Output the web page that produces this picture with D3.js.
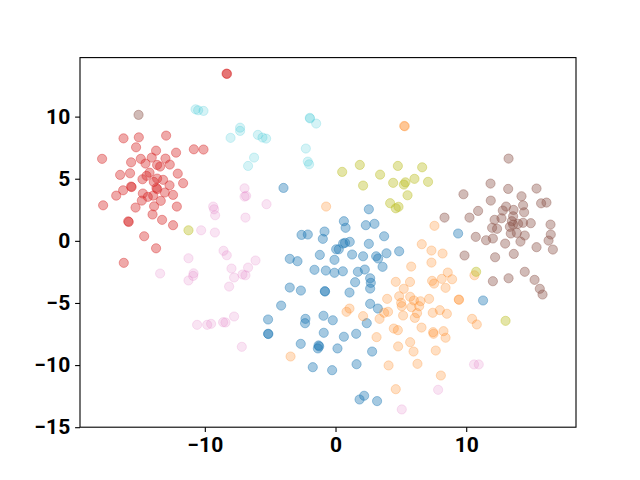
<!DOCTYPE html>
<html><head><meta charset="utf-8">
<script src="https://cdn.jsdelivr.net/npm/d3@7"></script>
<style>body{margin:0;background:#fff}</style></head>
<body><svg id="c" width="640" height="480"></svg>
<script>
const xTicks=[-10,0,10];
const yTicks=[-15,-10,-5,0,5,10];
const seriesNames=["blue","orange","red","brown","pink","olive","cyan"];
const seriesColors=["#1f77b4","#ff7f0e","#d62728","#8c564b","#e377c2","#bcbd22","#17becf"];
const seriesAlpha=[0.4,0.25,0.4,0.4,0.2,0.4,0.18];
const blue=[[-3.98,4.26],[2.55,2.54],[0.64,1.58],[0.77,1.05],[2.32,1.26],[2.98,1.37],[3.72,0.37],[-2.60,0.48],[-2.12,0.51],[-0.84,0.75],[-0.97,0.16],[0.58,-0.22],[0.25,-0.68],[0.05,-0.68],[1.09,-0.08],[0.73,-0.16],[2.55,-0.24],[-1.20,-1.13],[1.27,-1.10],[2.11,-1.24],[3.11,-1.24],[3.26,-1.42],[3.90,-1.00],[4.87,-0.84],[-0.08,-1.53],[-3.50,-1.45],[-2.91,-1.64],[3.60,-2.09],[-1.61,-2.33],[-0.74,-2.39],[-0.08,-2.57],[0.56,-2.45],[1.71,-2.49],[2.24,-2.31],[2.65,-3.01],[2.70,-3.38],[2.65,-3.84],[1.50,-3.33],[-3.50,-3.76],[-2.65,-4.00],[-0.82,-4.05],[-0.80,-4.08],[1.07,-4.16],[9.38,0.59],[11.29,-4.80],[-4.16,-5.21],[-5.16,-6.33],[-5.16,-7.48],[-5.14,-7.50],[-2.30,-6.28],[-2.33,-6.63],[-0.92,-6.03],[-0.21,-6.39],[-0.90,-7.40],[-2.66,-8.29],[-1.30,-8.42],[-1.25,-8.50],[-1.35,-8.66],[0.15,-8.66],[0.64,-7.72],[1.58,-7.48],[-1.74,-10.17],[-0.26,-10.41],[1.61,-9.93],[2.80,-8.91],[2.39,-6.63],[2.65,-5.07],[3.24,-5.45],[1.84,-12.77],[2.19,-12.47],[3.18,-12.90]];
const orange=[[5.25,9.25],[5.30,9.22],[-0.72,2.76],[4.61,-3.30],[5.22,-3.86],[4.87,-4.46],[3.95,-4.67],[5.70,-3.31],[5.71,-4.50],[7.16,-4.67],[7.57,1.21],[6.60,-0.27],[7.34,-0.78],[8.19,-1.02],[7.34,-1.75],[5.79,-2.07],[8.59,-2.55],[8.92,-3.09],[8.13,-3.06],[7.39,-3.22],[7.54,-3.44],[8.42,-3.78],[10.63,-2.77],[-3.44,-9.31],[0.84,-5.71],[1.07,-5.45],[2.11,-6.06],[3.14,-7.75],[4.06,-10.03],[4.61,-11.94],[5.02,-4.99],[5.07,-5.26],[3.37,-6.28],[3.72,-5.79],[4.02,-5.71],[5.17,-6.01],[4.46,-7.06],[4.77,-7.19],[4.79,-8.50],[6.00,-4.80],[6.50,-4.86],[6.40,-5.26],[5.81,-5.34],[6.07,-6.20],[6.24,-5.82],[7.44,-5.79],[7.98,-5.58],[8.52,-5.87],[9.43,-4.72],[9.45,-4.75],[10.45,-6.28],[10.81,-6.73],[6.58,-6.98],[7.47,-7.35],[7.50,-7.48],[8.26,-7.27],[8.42,-7.80],[5.71,-8.16],[5.97,-8.91],[7.67,-8.83],[6.27,-9.90],[8.06,-10.84]];
const red=[[-16.22,8.25],[-15.05,8.33],[-12.96,8.47],[-15.26,7.53],[-10.84,7.37],[-10.10,7.35],[-17.86,6.60],[-13.73,7.26],[-12.20,7.10],[-15.64,6.32],[-14.90,6.60],[-14.54,6.22],[-14.06,6.70],[-13.01,6.62],[-13.65,6.11],[-13.42,5.98],[-12.68,6.14],[-16.48,5.31],[-15.72,5.44],[-14.23,5.49],[-14.46,5.23],[-12.07,5.41],[-8.34,13.46],[-8.30,13.44],[-14.77,4.96],[-13.65,5.01],[-13.19,4.91],[-13.90,4.74],[-11.66,4.64],[-16.25,4.07],[-15.64,4.37],[-15.60,4.33],[-16.78,3.64],[-14.74,3.81],[-13.70,4.26],[-13.64,4.16],[-13.06,3.89],[-12.70,4.47],[-12.43,3.70],[-14.36,3.54],[-14.82,3.24],[-13.95,3.64],[-13.37,3.22],[-17.78,2.86],[-15.30,2.68],[-13.88,2.78],[-12.14,2.76],[-14.00,2.12],[-13.27,1.69],[-12.43,1.26],[-15.86,1.57],[-15.82,1.52],[-14.64,0.37],[-13.73,-0.60],[-16.20,-1.77]];
const brown=[[-15.07,10.14],[13.24,6.62],[11.86,4.61],[13.21,4.18],[15.38,4.21],[9.79,3.75],[11.88,3.24],[14.23,3.59],[15.73,3.02],[16.14,3.08],[10.91,2.41],[10.25,1.87],[8.34,1.87],[13.05,2.76],[12.80,2.44],[13.62,2.49],[14.35,2.86],[14.43,2.30],[12.17,1.69],[12.70,1.82],[13.59,1.98],[13.49,1.58],[13.59,1.31],[13.34,1.13],[13.97,1.37],[14.35,1.45],[14.94,1.42],[11.98,1.05],[12.36,0.97],[13.41,0.59],[13.87,0.64],[14.48,0.43],[16.45,1.31],[16.47,0.51],[16.30,0.02],[10.73,0.32],[11.52,0.05],[12.04,0.19],[12.98,-0.22],[14.15,-0.06],[15.38,-0.51],[16.63,-0.70],[9.87,-1.18],[12.21,-1.32],[13.64,-1.05],[14.48,-2.49],[12.04,-3.25],[13.24,-3.01],[15.23,-3.14],[15.63,-3.86],[15.84,-4.32]];
const pink=[[-6.96,4.23],[-6.96,3.56],[-6.84,3.62],[-9.36,2.76],[-9.29,2.54],[-9.21,2.06],[-6.89,1.87],[-10.28,0.85],[-9.23,0.67],[-11.25,-1.40],[-8.57,-0.80],[-8.32,-1.16],[-13.42,-2.63],[-10.86,-2.61],[-10.89,-2.82],[-11.25,-3.19],[-7.96,-2.23],[-7.76,-2.95],[-8.14,-3.68],[-7.12,-2.71],[-6.89,-2.77],[-6.69,-2.15],[-5.28,2.95],[-6.12,-1.58],[-10.59,-6.76],[-9.82,-6.76],[-9.52,-6.68],[-8.60,-6.55],[-8.42,-6.57],[-7.76,-6.09],[-7.17,-8.53],[5.07,-13.57],[10.60,-9.95],[10.96,-9.95],[7.85,-11.99]];
const olive=[[-11.25,0.85],[0.51,5.55],[1.86,6.11],[3.41,5.33],[4.77,6.03],[6.63,5.92],[2.11,4.45],[4.41,4.67],[5.23,4.53],[5.35,4.71],[5.51,3.67],[4.18,3.03],[4.61,2.62],[4.82,2.74],[6.04,4.99],[7.08,4.75],[10.76,-2.49],[13.01,-6.44]];
const cyan=[[-10.71,10.59],[-10.51,10.51],[-10.10,10.46],[-7.30,9.11],[-7.30,8.85],[-8.03,8.29],[-6.69,6.03],[-5.94,8.53],[-5.59,8.31],[-5.31,8.23],[-1.97,9.90],[-1.95,9.85],[-1.48,9.44],[-2.27,7.43],[-6.23,6.70],[-2.12,6.38],[-2.02,6.16]];
const allSeries=[blue,orange,red,brown,pink,olive,cyan];

const W=640,H=480,L=80,R=576,T=57.6,B=427.2;
const svg=d3.select("#c");
const x=d3.scaleLinear().domain([-19.55,18.4]).range([L,R]);
const y=d3.scaleLinear().domain([-15,14.75]).range([B,T]);

allSeries.forEach((s,i)=>{
  svg.append("g").selectAll("circle").data(s).join("circle")
    .attr("cx",d=>x(d[0])).attr("cy",d=>y(d[1])).attr("r",4.6)
    .attr("fill",seriesColors[i]).attr("fill-opacity",seriesAlpha[i])
    .attr("stroke",seriesColors[i]).attr("stroke-opacity",seriesAlpha[i]).attr("stroke-width",1);
});

const font="Roboto, sans-serif";
const xa=svg.append("g").attr("transform",`translate(0,${B})`)
  .call(d3.axisBottom(x).tickValues(xTicks).tickSize(4.9).tickPadding(4.9).tickFormat(d=>d<0?"\u2212"+Math.abs(d):d));
const ya=svg.append("g").attr("transform",`translate(${L},0)`)
  .call(d3.axisLeft(y).tickValues(yTicks).tickSize(4.9).tickPadding(4.9).tickFormat(d=>d<0?"\u2212"+Math.abs(d):d));
[xa,ya].forEach(a=>{
  a.select(".domain").remove();
  a.selectAll("line").attr("stroke","#000").attr("stroke-width",1.1);
  a.selectAll("text").attr("font-family",font).attr("font-weight","bold").attr("font-size",21).attr("fill","#000");
});
svg.append("rect").attr("x",L).attr("y",T).attr("width",R-L).attr("height",B-T)
  .attr("fill","none").attr("stroke","#000").attr("stroke-width",1.1);
</script></body></html>
